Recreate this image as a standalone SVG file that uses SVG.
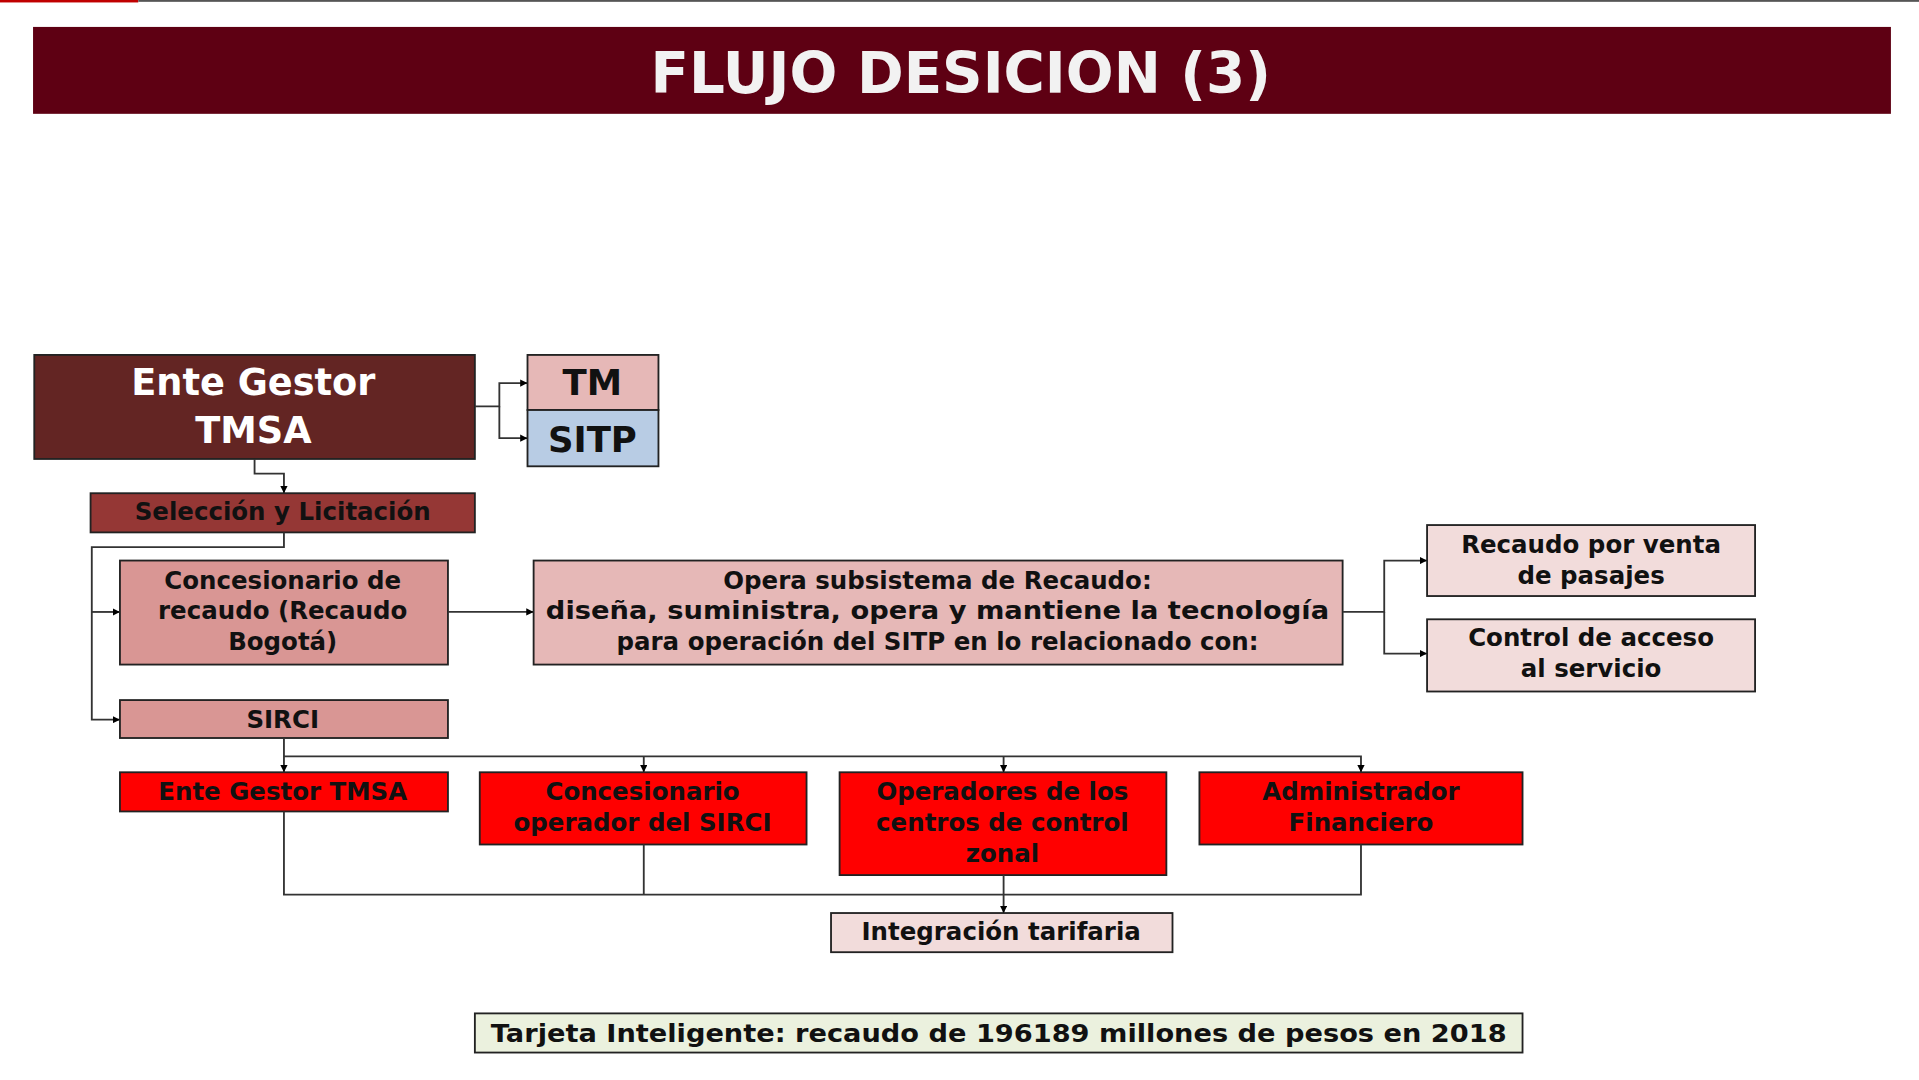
<svg xmlns="http://www.w3.org/2000/svg" width="1919" height="1080" viewBox="0 0 1919 1080">
<defs>
<marker id="a" viewBox="0 0 6 6" refX="6" refY="3" markerWidth="4" markerHeight="4" orient="auto"><path d="M0,0L6,3L0,6z" fill="#000"/></marker>
<style>
text{font-family:"DejaVu Sans","Liberation Sans",sans-serif;font-weight:bold;text-anchor:middle}
.b{stroke:#222;stroke-width:1.5}
.t{font-size:20px;fill:#111}
.c{fill:none;stroke:#333;stroke-width:1.5}
</style>
</defs>
<rect width="1919" height="1080" fill="#fff"/>
<g transform="scale(1.2239)">
<rect x="0" y="0" width="113" height="2" fill="#c00000"/>
<rect x="113" y="0" width="1455" height="1.5" fill="#555"/>
<g id="title"><rect x="27" y="22" width="1518" height="71" fill="#5e0013"/>
<text x="785" y="76" font-size="46" fill="#f2f2f2">FLUJO DESICION (3)</text></g>
<g id="ente"><rect class="b" x="28" y="290" width="360" height="85" fill="#632523"/>
<text x="207" y="323" font-size="30" fill="#fff">Ente Gestor</text><text x="207" y="362" font-size="30" fill="#fff">TMSA</text></g>
<g id="tm"><rect class="b" x="431" y="290" width="107" height="45" fill="#e6b8b7"/><text x="484" y="323" font-size="29" fill="#111">TM</text></g>
<g id="sitp"><rect class="b" x="431" y="335" width="107" height="46" fill="#b8cce4"/><text x="484" y="369" font-size="29" fill="#111">SITP</text></g>
<g id="sel"><rect class="b" x="74" y="403" width="314" height="32" fill="#953735"/><text class="t" x="231" y="425">Selección y Licitación</text></g>
<g id="conc"><rect class="b" x="98" y="458" width="268" height="85" fill="#d99694"/><text class="t" x="231" y="481">Concesionario de</text><text class="t" x="231" y="506">recaudo (Recaudo</text><text class="t" x="231" y="531">Bogotá)</text></g>
<g id="opera"><rect class="b" x="436" y="458" width="661" height="85" fill="#e6b8b7"/><text class="t" x="766" y="481">Opera subsistema de Recaudo:</text><text class="t" x="766" y="506" textLength="640" lengthAdjust="spacingAndGlyphs">diseña, suministra, opera y mantiene la tecnología</text><text class="t" x="766" y="531">para operación del SITP en lo relacionado con:</text></g>
<g id="rv"><rect class="b" x="1166" y="429" width="268" height="58" fill="#f2dcdb"/><text class="t" x="1300" y="452">Recaudo por venta</text><text class="t" x="1300" y="477">de pasajes</text></g>
<g id="ca"><rect class="b" x="1166" y="506" width="268" height="59" fill="#f2dcdb"/><text class="t" x="1300" y="528">Control de acceso</text><text class="t" x="1300" y="553">al servicio</text></g>
<g id="sirci"><rect class="b" x="98" y="572" width="268" height="31" fill="#d99694"/><text class="t" x="231" y="595">SIRCI</text></g>
<g id="r1"><rect class="b" x="98" y="631" width="268" height="32" fill="#ff0000"/><text class="t" x="231" y="654">Ente Gestor TMSA</text></g>
<g id="r2"><rect class="b" x="392" y="631" width="267" height="59" fill="#ff0000"/><text class="t" x="525" y="654">Concesionario</text><text class="t" x="525" y="679">operador del SIRCI</text></g>
<g id="r3"><rect class="b" x="686" y="631" width="267" height="84" fill="#ff0000"/><text class="t" x="819" y="654">Operadores de los</text><text class="t" x="819" y="679">centros de control</text><text class="t" x="819" y="704">zonal</text></g>
<g id="r4"><rect class="b" x="980" y="631" width="264" height="59" fill="#ff0000"/><text class="t" x="1112" y="654">Administrador</text><text class="t" x="1112" y="679">Financiero</text></g>
<g id="integ"><rect class="b" x="679" y="746" width="279" height="32" fill="#f2dcdb"/><text class="t" x="818" y="768">Integración tarifaria</text></g>
<g id="tarjeta"><rect class="b" x="388" y="828" width="856" height="32" fill="#ebf1de"/><text class="t" x="816" y="851" textLength="830" lengthAdjust="spacingAndGlyphs">Tarjeta Inteligente: recaudo de 196189 millones de pesos en 2018</text></g>
<g id="connectors">
<path class="c" d="M388,332H408V313H431" marker-end="url(#a)"/>
<path class="c" d="M408,332V358H431" marker-end="url(#a)"/>
<path class="c" d="M208,375V387H232V403" marker-end="url(#a)"/>
<path class="c" d="M232,435V447H75V588H98" marker-end="url(#a)"/>
<path class="c" d="M75,500H98" marker-end="url(#a)"/>
<path class="c" d="M366,500H436" marker-end="url(#a)"/>
<path class="c" d="M1097,500H1131V458H1166" marker-end="url(#a)"/>
<path class="c" d="M1131,500V534H1166" marker-end="url(#a)"/>
<path class="c" d="M232,603V631" marker-end="url(#a)"/>
<path class="c" d="M232,618H1112V631" marker-end="url(#a)"/>
<path class="c" d="M526,618V631" marker-end="url(#a)"/>
<path class="c" d="M820,618V631" marker-end="url(#a)"/>
<path class="c" d="M232,663V731H1112V690"/>
<path class="c" d="M526,690V731"/>
<path class="c" d="M820,715V746" marker-end="url(#a)"/>
</g>
</g>
</svg>
